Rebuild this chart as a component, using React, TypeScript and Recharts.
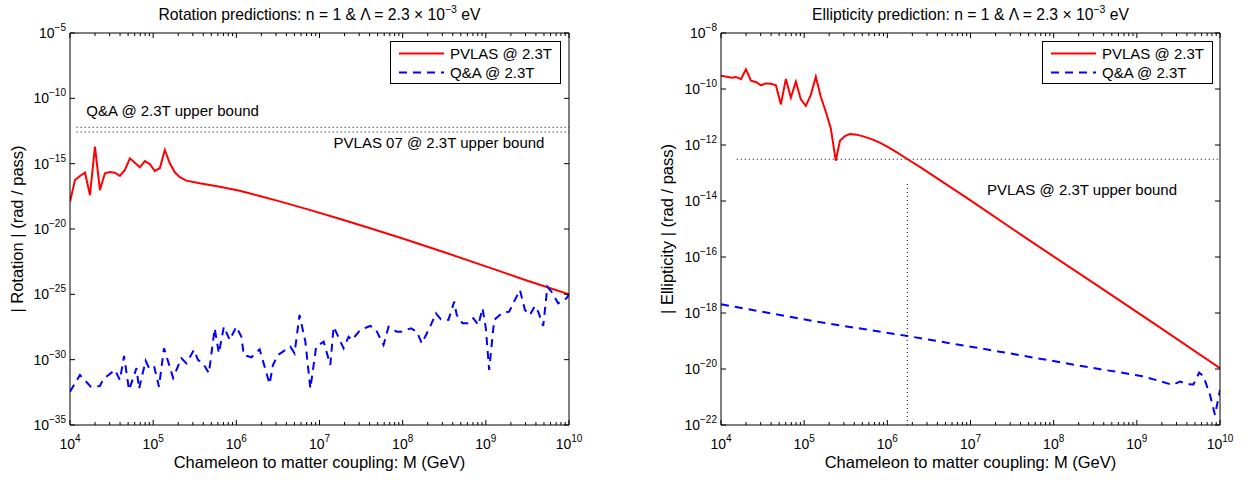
import type { ReactNode } from "react";
import { LineChart, Line, XAxis, YAxis, ReferenceLine, Legend } from "recharts";

const FONT = '"Liberation Sans", Arial, Helvetica, sans-serif';
const RED = "#ff0000";
const BLUE = "#0000ff";

// every value is a log10: m = log10 M (GeV), v = log10 |signal| (rad / pass)

// rotation panel
const rotPvlasM = [4.0, 4.06, 4.12, 4.18, 4.24, 4.3, 4.36, 4.42, 4.48, 4.54, 4.6, 4.66, 4.72, 4.78, 4.84, 4.9, 4.96, 5.02, 5.08, 5.14, 5.2, 5.26, 5.32, 5.4, 5.56, 5.8, 6.04, 6.28, 6.5, 6.86, 7.2, 7.6, 8.0, 8.5, 9.07, 9.5, 10.0];
const rotPvlasV = [-17.91, -16.25, -15.94, -15.69, -17.4, -13.7, -17.02, -15.74, -15.64, -15.69, -15.94, -15.48, -14.59, -14.93, -15.28, -14.8, -15.03, -15.56, -15.35, -13.95, -14.97, -15.66, -16.04, -16.3, -16.5, -16.76, -17.07, -17.47, -17.85, -18.5, -19.14, -19.92, -20.73, -21.78, -23.01, -23.96, -25.0];

const rotQaM = [4.0, 4.12, 4.25, 4.36, 4.4, 4.54, 4.6, 4.65, 4.71, 4.8, 4.83, 4.91, 4.95, 5.01, 5.07, 5.13, 5.18, 5.24, 5.3, 5.34, 5.4, 5.49, 5.54, 5.6, 5.67, 5.74, 5.79, 5.85, 5.92, 6.0, 6.06, 6.09, 6.18, 6.28, 6.4, 6.44, 6.5, 6.65, 6.7, 6.76, 6.83, 6.89, 6.96, 7.05, 7.13, 7.17, 7.29, 7.35, 7.39, 7.49, 7.61, 7.67, 7.77, 7.83, 7.93, 7.98, 8.1, 8.17, 8.23, 8.33, 8.4, 8.46, 8.55, 8.62, 8.65, 8.72, 8.79, 8.85, 8.91, 8.96, 9.0, 9.04, 9.1, 9.19, 9.28, 9.34, 9.41, 9.47, 9.53, 9.59, 9.63, 9.69, 9.74, 9.79, 9.87, 9.97, 10.0];
const rotQaV = [-32.45, -31.17, -32.07, -32.01, -31.48, -30.79, -31.56, -29.72, -32.32, -30.64, -32.24, -30.08, -30.64, -30.48, -32.07, -29.13, -30.15, -31.4, -30.48, -29.89, -30.28, -29.26, -30.03, -30.28, -31.04, -27.6, -29.51, -27.48, -28.49, -27.48, -28.24, -29.64, -29.82, -29.21, -31.86, -30.41, -29.64, -29.01, -29.51, -26.58, -28.62, -32.21, -29.01, -28.62, -30.41, -27.48, -29.13, -28.24, -28.49, -27.73, -27.42, -27.6, -28.88, -27.48, -27.86, -27.86, -27.6, -27.86, -28.75, -27.48, -26.45, -26.91, -26.96, -25.56, -26.58, -27.22, -27.22, -26.83, -27.35, -26.07, -27.6, -30.79, -26.96, -26.45, -26.33, -25.56, -24.67, -26.2, -26.58, -25.89, -26.33, -27.42, -24.42, -24.8, -25.69, -25.3, -25.0];

const rotQaBound = -12.22;
const rotPvlas07Bound = -12.57;
const rotBoundStart = 4.08;

// ellipticity panel
const ellPvlasM = [4.0, 4.07, 4.13, 4.18, 4.24, 4.3, 4.36, 4.42, 4.48, 4.54, 4.6, 4.66, 4.72, 4.78, 4.84, 4.9, 4.96, 5.02, 5.08, 5.14, 5.2, 5.26, 5.32, 5.38, 5.43, 5.49, 5.55, 5.63, 5.72, 5.82, 5.92, 6.02, 6.12, 6.24, 6.4, 7.0, 7.7, 8.5, 9.2, 10.0];
const ellPvlasV = [-9.53, -9.56, -9.6, -9.57, -9.65, -9.3, -9.7, -9.75, -9.87, -9.8, -9.81, -9.87, -10.55, -9.64, -10.31, -9.74, -10.37, -10.6, -10.21, -9.56, -10.28, -10.81, -11.4, -12.56, -11.85, -11.68, -11.61, -11.63, -11.7, -11.8, -11.93, -12.09, -12.27, -12.5, -12.8, -13.98, -15.39, -16.97, -18.36, -19.97];

const ellQaM = [4.0, 5.15, 6.24, 7.35, 8.56, 8.8, 9.05, 9.3, 9.43, 9.52, 9.61, 9.68, 9.75, 9.8, 9.88, 9.94, 10.0];
const ellQaV = [-17.69, -18.31, -18.82, -19.38, -20.01, -20.12, -20.25, -20.45, -20.57, -20.45, -20.54, -20.55, -20.13, -20.25, -20.93, -21.64, -20.75];

const ellPvlasBound = -12.51;
const ellBoundStart = 4.19;
const ellCrossM = 6.24;
const ellCrossTop = -13.31;

const xTicks = [4, 5, 6, 7, 8, 9, 10];
const minorSteps = [2, 3, 4, 5, 6, 7, 8, 9];
const rotYTicks = [-35, -30, -25, -20, -15, -10, -5];
const ellYTicks = [-22, -20, -18, -16, -14, -12, -10, -8];

const xAllTicks = [
  ...xTicks,
  ...xTicks.slice(0, -1).flatMap((k) => minorSteps.map((d) => k + Math.log10(d))),
];

const pts = (m: number[], v: number[]) => m.map((x, i) => ({ m: x, v: v[i] }));

const H = 481;
const TOP = 33;
const BOTTOM = 425;

const expText = (n: number) => (n < 0 ? `\u2212${-n}` : `${n}`);

function Pow({ x, y, exp, anchor }: { x: number; y: number; exp: number; anchor: "start" | "middle" | "end" }) {
  return (
    <text x={x} y={y} textAnchor={anchor} fontFamily={FONT} fontSize={14} fill="#000">
      10
      <tspan dy={-7} fontSize={10}>
        {expText(exp)}
      </tspan>
    </text>
  );
}

const BottomTick = (p: any) => {
  const major = Number.isInteger(p.payload.value);
  return (
    <g>
      <line x1={p.x} x2={p.x} y1={p.y} y2={p.y - (major ? 5 : 3)} stroke="#000" />
      {major && <Pow x={p.x} y={p.y + 24} exp={p.payload.value} anchor="middle" />}
    </g>
  );
};

const TopTick = (p: any) => {
  const major = Number.isInteger(p.payload.value);
  return <line x1={p.x} x2={p.x} y1={p.y} y2={p.y + (major ? 5 : 3)} stroke="#000" />;
};

const LeftTick = (p: any) => (
  <g>
    <line x1={p.x} x2={p.x + 5} y1={p.y} y2={p.y} stroke="#000" />
    <Pow x={p.x - 4} y={p.y + 5} exp={p.payload.value} anchor="end" />
  </g>
);

const RightTick = (p: any) => <line x1={p.x} x2={p.x - 5} y1={p.y} y2={p.y} stroke="#000" />;

const LegendBox = ({ payload }: any) => (
  <div
    style={{
      width: 171,
      height: 43,
      boxSizing: "border-box",
      border: "1px solid #000",
      background: "#fff",
      fontFamily: FONT,
      fontSize: 15,
      paddingTop: 2,
    }}
  >
    {(payload || []).map((e: any) => (
      <div key={e.value} style={{ display: "flex", alignItems: "center", height: 19 }}>
        <svg width={59} height={19} style={{ display: "block" }}>
          <line
            x1={8}
            x2={53}
            y1={9.5}
            y2={9.5}
            stroke={e.color}
            strokeWidth={2}
            strokeDasharray={e.payload?.strokeDasharray}
          />
        </svg>
        <span style={{ lineHeight: "19px", whiteSpace: "nowrap" }}>{e.value}</span>
      </div>
    ))}
  </div>
);

const boundText = (text: string, place: (vb: any) => { x: number; y: number }) => (props: any) => {
  const vb = props.viewBox || {};
  const { x, y } = place(vb);
  return (
    <text x={x} y={y} textAnchor="middle" fontFamily={FONT} fontSize={15} fill="#000">
      {text}
    </text>
  );
};

interface PanelProps {
  width: number;
  marginLeft: number;
  marginRight: number;
  yDomain: [number, number];
  yTicks: number[];
  title: string;
  yLabel: string;
  yLabelX: number;
  pvlas: { m: number; v: number }[];
  qa: { m: number; v: number }[];
  legendLeft: number;
  refs: ReactNode[];
}

function Panel(props: PanelProps) {
  const { width, marginLeft, marginRight, yDomain, yTicks, title, yLabel, yLabelX, pvlas, qa, legendLeft, refs } = props;
  const cx = (marginLeft + width - marginRight) / 2;
  const cy = (TOP + BOTTOM) / 2;
  const axisLine = { stroke: "#000", strokeWidth: 1 };

  return (
    <LineChart
      width={width}
      height={H}
      margin={{ top: TOP - 1, right: marginRight - 1, bottom: H - BOTTOM - 1, left: marginLeft - 1 }}
      style={{ background: "#fff" }}
    >
      <XAxis
        xAxisId="b"
        type="number"
        dataKey="m"
        domain={[4, 10]}
        ticks={xAllTicks}
        interval={0}
        allowDataOverflow
        height={1}
        tickSize={0}
        tickMargin={0}
        tickLine={false}
        axisLine={axisLine}
        tick={<BottomTick />}
        label={() => (
          <text x={cx} y={468} textAnchor="middle" fontFamily={FONT} fontSize={16.5} fill="#000">
            Chameleon to matter coupling: M (GeV)
          </text>
        )}
      />
      <XAxis
        xAxisId="t"
        orientation="top"
        type="number"
        dataKey="m"
        domain={[4, 10]}
        ticks={xAllTicks}
        interval={0}
        allowDataOverflow
        height={1}
        tickSize={0}
        tickMargin={0}
        tickLine={false}
        axisLine={axisLine}
        tick={<TopTick />}
        label={() => (
          <text x={cx} y={20} textAnchor="middle" fontFamily={FONT} fontSize={15.7} fill="#000">
            {title}
            <tspan dy={-7} fontSize={10.5}>
              {"\u22123"}
            </tspan>
            <tspan dy={7}>{" eV"}</tspan>
          </text>
        )}
      />
      <YAxis
        yAxisId="l"
        type="number"
        domain={yDomain}
        ticks={yTicks}
        interval={0}
        allowDataOverflow
        width={1}
        tickSize={0}
        tickMargin={0}
        tickLine={false}
        axisLine={axisLine}
        tick={<LeftTick />}
        label={() => (
          <text
            x={yLabelX}
            y={cy}
            transform={`rotate(-90, ${yLabelX}, ${cy})`}
            textAnchor="middle"
            fontFamily={FONT}
            fontSize={16.5}
            fill="#000"
          >
            {yLabel}
          </text>
        )}
      />
      <YAxis
        yAxisId="r"
        orientation="right"
        type="number"
        domain={yDomain}
        ticks={yTicks}
        interval={0}
        allowDataOverflow
        width={1}
        tickSize={0}
        tickMargin={0}
        tickLine={false}
        axisLine={axisLine}
        tick={<RightTick />}
      />
      {refs}
      <Line
        xAxisId="b"
        yAxisId="l"
        data={pvlas}
        dataKey="v"
        name="PVLAS @ 2.3T"
        type="linear"
        stroke={RED}
        strokeWidth={2}
        dot={false}
        isAnimationActive={false}
      />
      <Line
        xAxisId="b"
        yAxisId="l"
        data={qa}
        dataKey="v"
        name="Q&A @ 2.3T"
        type="linear"
        stroke={BLUE}
        strokeWidth={2}
        strokeDasharray="8 6"
        dot={false}
        isAnimationActive={false}
      />
      <Legend
        layout="vertical"
        align="center"
        verticalAlign="middle"
        wrapperStyle={{ left: legendLeft, top: 41, width: 171, height: 43 }}
        content={(p: any) => <LegendBox {...p} />}
      />
    </LineChart>
  );
}

const dotted = { stroke: "#000", strokeWidth: 1, strokeDasharray: "1 3" };

export default function App() {
  const rotRefs = [
    <ReferenceLine
      key="qa"
      xAxisId="b"
      yAxisId="l"
      segment={[
        { x: rotBoundStart, y: rotQaBound },
        { x: 10, y: rotQaBound },
      ]}
      {...dotted}
      label={boundText("Q&A @ 2.3T upper bound", (vb) => ({ x: vb.x + 96, y: vb.y - 11 }))}
    />,
    <ReferenceLine
      key="pv"
      xAxisId="b"
      yAxisId="l"
      segment={[
        { x: rotBoundStart, y: rotPvlas07Bound },
        { x: 10, y: rotPvlas07Bound },
      ]}
      {...dotted}
      label={boundText("PVLAS 07 @ 2.3T upper bound", (vb) => ({ x: vb.x + vb.width - 130, y: vb.y + 16.5 }))}
    />,
  ];

  const ellRefs = [
    <ReferenceLine
      key="pv"
      xAxisId="b"
      yAxisId="l"
      segment={[
        { x: ellBoundStart, y: ellPvlasBound },
        { x: 10, y: ellPvlasBound },
      ]}
      {...dotted}
      label={boundText("PVLAS @ 2.3T upper bound", (vb) => ({ x: vb.x + vb.width - 138, y: vb.y + 35.5 }))}
    />,
    <ReferenceLine
      key="cross"
      xAxisId="b"
      yAxisId="l"
      segment={[
        { x: ellCrossM, y: -22 },
        { x: ellCrossM, y: ellCrossTop },
      ]}
      {...dotted}
    />,
  ];

  return (
    <div style={{ position: "absolute", left: 0, top: 0, width: 1253, height: H, background: "#fff" }}>
      <div style={{ position: "absolute", left: 0, top: 0 }}>
        <Panel
          width={625}
          marginLeft={70}
          marginRight={56}
          yDomain={[-35, -5]}
          yTicks={rotYTicks}
          title={"Rotation predictions: n = 1 & \u039b = 2.3 \u00d7 10"}
          yLabel="| Rotation | (rad / pass)"
          yLabelX={23}
          pvlas={pts(rotPvlasM, rotPvlasV)}
          qa={pts(rotQaM, rotQaV)}
          legendLeft={390}
          refs={rotRefs}
        />
      </div>
      <div style={{ position: "absolute", left: 625, top: 0 }}>
        <Panel
          width={628}
          marginLeft={96}
          marginRight={33}
          yDomain={[-22, -8]}
          yTicks={ellYTicks}
          title={"Ellipticity prediction: n = 1 & \u039b = 2.3 \u00d7 10"}
          yLabel="| Ellipticity | (rad / pass)"
          yLabelX={48}
          pvlas={pts(ellPvlasM, ellPvlasV)}
          qa={pts(ellQaM, ellQaV)}
          legendLeft={417}
          refs={ellRefs}
        />
      </div>
    </div>
  );
}
